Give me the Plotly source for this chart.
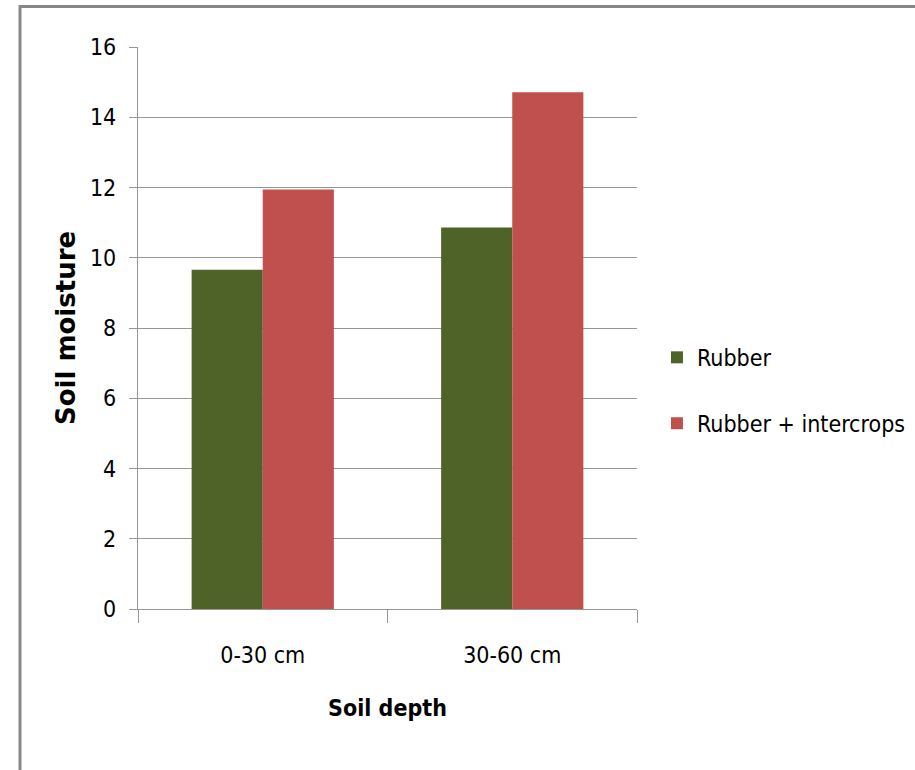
import plotly.graph_objects as go

categories = ["0-30 cm", "30-60 cm"]
rubber = [9.66, 10.86]
rubber_intercrops = [11.94, 14.71]
series_names = ["Rubber", "Rubber + intercrops"]
y_ticks = [0, 2, 4, 6, 8, 10, 12, 14, 16]

FONT = "Liberation Sans Narrow, Arial Narrow, DejaVu Sans Condensed, sans-serif"
GREEN = "#4F6228"
RED = "#C0504D"
GRID = "#969696"

fig = go.Figure()
fig.add_trace(go.Bar(x=categories, y=rubber, name=series_names[0],
                     marker=dict(color=GREEN, line=dict(width=0)),
                     legendgroup="a"))
fig.add_trace(go.Bar(x=categories, y=rubber_intercrops, name=series_names[1],
                     marker=dict(color=RED, line=dict(width=0)),
                     legendgroup="b"))

fig.update_layout(
    width=915, height=770,
    margin=dict(l=138, r=278, t=47, b=161, autoexpand=False),
    paper_bgcolor="white", plot_bgcolor="white",
    barmode="group", bargap=0.43, bargroupgap=0,
    font=dict(family=FONT, size=23, color="#000000"),
    showlegend=True,
    legend=dict(x=1.04, xanchor="left", y=0.389, yanchor="middle",
                font=dict(family=FONT, size=23), tracegroupgap=33,
                bgcolor="rgba(0,0,0,0)", itemwidth=30),
    xaxis=dict(
        showline=True, linecolor=GRID, linewidth=1.3,
        ticks="outside", ticklen=13, tickcolor=GRID, tickwidth=1.3,
        tickson="boundaries", showgrid=False,
        tickfont=dict(family=FONT, size=23),
        ticklabelstandoff=25,
        title=dict(text="<b>Soil depth</b>", standoff=33,
                   font=dict(family=FONT, size=23)),
        automargin=True,
    ),
    yaxis=dict(
        range=[0, 16], tickvals=y_ticks,
        showline=True, linecolor=GRID, linewidth=1.3,
        ticks="outside", ticklen=8, tickcolor=GRID, tickwidth=1.3,
        showgrid=True, gridcolor=GRID, gridwidth=1.3,
        zeroline=False,
        tickfont=dict(family=FONT, size=23),
        ticklabelstandoff=8,
        title=dict(text="<b>Soil moisture</b>", standoff=6,
                   font=dict(family="DejaVu Sans, Verdana, sans-serif", size=26)),
        automargin=True,
    ),
    shapes=[dict(type="path", xref="paper", yref="paper",
                 xsizemode="pixel", ysizemode="pixel", xanchor=0, yanchor=0,
                 path="M -118,-170 L -118,602.5 L 790,602.5",
                 line=dict(color="#878787", width=3))],
)

fig.write_html("out.html")
